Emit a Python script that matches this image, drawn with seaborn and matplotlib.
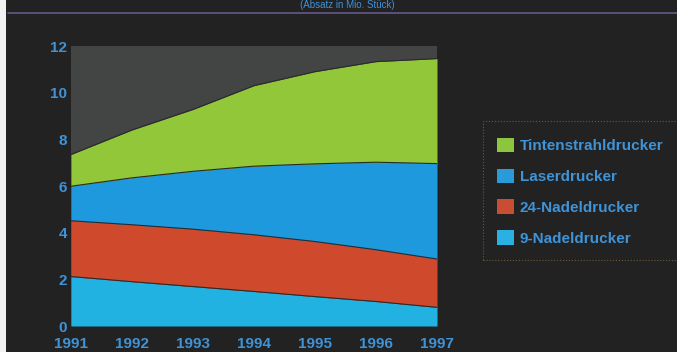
import numpy as np
import pandas as pd
import seaborn as sns
import matplotlib.pyplot as plt
from matplotlib.patches import Patch, Rectangle

# Data (Mio. Stück, stacked)
years = [1991, 1992, 1993, 1994, 1995, 1996, 1997]
nadel9 = [2.12, 1.90, 1.69, 1.48, 1.26, 1.05, 0.80]
nadel24 = [2.39, 2.44, 2.46, 2.43, 2.36, 2.22, 2.07]
laser = [1.48, 2.01, 2.48, 2.94, 3.33, 3.75, 4.09]
tinte = [1.36, 2.05, 2.65, 3.45, 3.95, 4.31, 4.50]

series_names = ["9-Nadeldrucker", "24-Nadeldrucker", "Laserdrucker", "Tintenstrahldrucker"]
series_vals = [nadel9, nadel24, laser, tinte]
fill_colors = ["#21b2e2", "#cf4a2c", "#1f99de", "#92c73a"]
legend_colors = ["#2ab0e2", "#c94d33", "#2a9ad8", "#8cc63f"]

y_ticks = [0, 2, 4, 6, 8, 10, 12]

bg = "#222222"
plot_bg = "#434444"
text_blue = "#3f93d6"

sns.set_theme(style="dark")
plt.rcParams['font.family'] = ['Liberation Sans', 'DejaVu Sans']

fig = plt.figure(figsize=(6.77, 3.52), dpi=100, facecolor=bg)
ax = fig.add_axes([71/677, 1 - 326/352, 366/677, 280/352])
ax.set_facecolor(plot_bg)

# stack the series
df = pd.DataFrame({n: v for n, v in zip(series_names, series_vals)}, index=years)
cum = df.cumsum(axis=1)
lower = np.zeros(len(years))
for name, col in zip(series_names, fill_colors):
    upper = cum[name].values
    ax.fill_between(years, lower, upper, color=col, lw=0)
    lower = upper

# boundary lines
long = cum.reset_index().melt(id_vars="index", var_name="serie", value_name="wert")
sns.lineplot(data=long, x="index", y="wert", units="serie", estimator=None,
             color="#2a2a2a", lw=0.8, ax=ax, legend=False)

ax.set_xlim(1991, 1997)
ax.set_ylim(0, 12)
ax.set_xticks(years)
ax.set_xticklabels([str(y) for y in years])
ax.set_yticks(y_ticks)
ax.set_xlabel("")
ax.set_ylabel("")
ax.tick_params(axis="both", colors=text_blue, labelsize=11, length=0)
ax.tick_params(axis="x", pad=8)
ax.tick_params(axis="y", pad=3)
for lab in ax.get_xticklabels() + ax.get_yticklabels():
    lab.set_fontweight("bold")
for s in ax.spines.values():
    s.set_visible(False)
ax.grid(False)

# title remnant at the top edge and rule line
fig.text(347/677, 1 - 5/352, "(Absatz in Mio. Stück)", color=text_blue,
         ha="center", va="center", fontsize=7)
fig.add_artist(plt.Line2D([8/677, 1], [1 - 13/352, 1 - 13/352],
                          color="#66598a", lw=1.2, transform=fig.transFigure))
fig.add_artist(Rectangle((0, 0), 6/677, 1, transform=fig.transFigure,
                         color="#f2f2f2", lw=0))

# legend box
fig.add_artist(Rectangle((483/677, 1 - 260/352), 0.4, 139/352, transform=fig.transFigure,
                         facecolor="none", edgecolor="#6b5a40", lw=0.8, ls=":"))
handles = [Patch(facecolor=c, edgecolor="none") for c in legend_colors[::-1]]
leg = fig.legend(handles, series_names[::-1], loc="upper left",
                 bbox_to_anchor=(483/677, 1 - 124/352), frameon=False,
                 prop={"size": 11, "weight": "bold"}, labelcolor=text_blue,
                 handlelength=1.1, handleheight=1.1, handletextpad=0.4,
                 labelspacing=1.0)

fig.savefig("out.png", dpi=100, facecolor=bg)
